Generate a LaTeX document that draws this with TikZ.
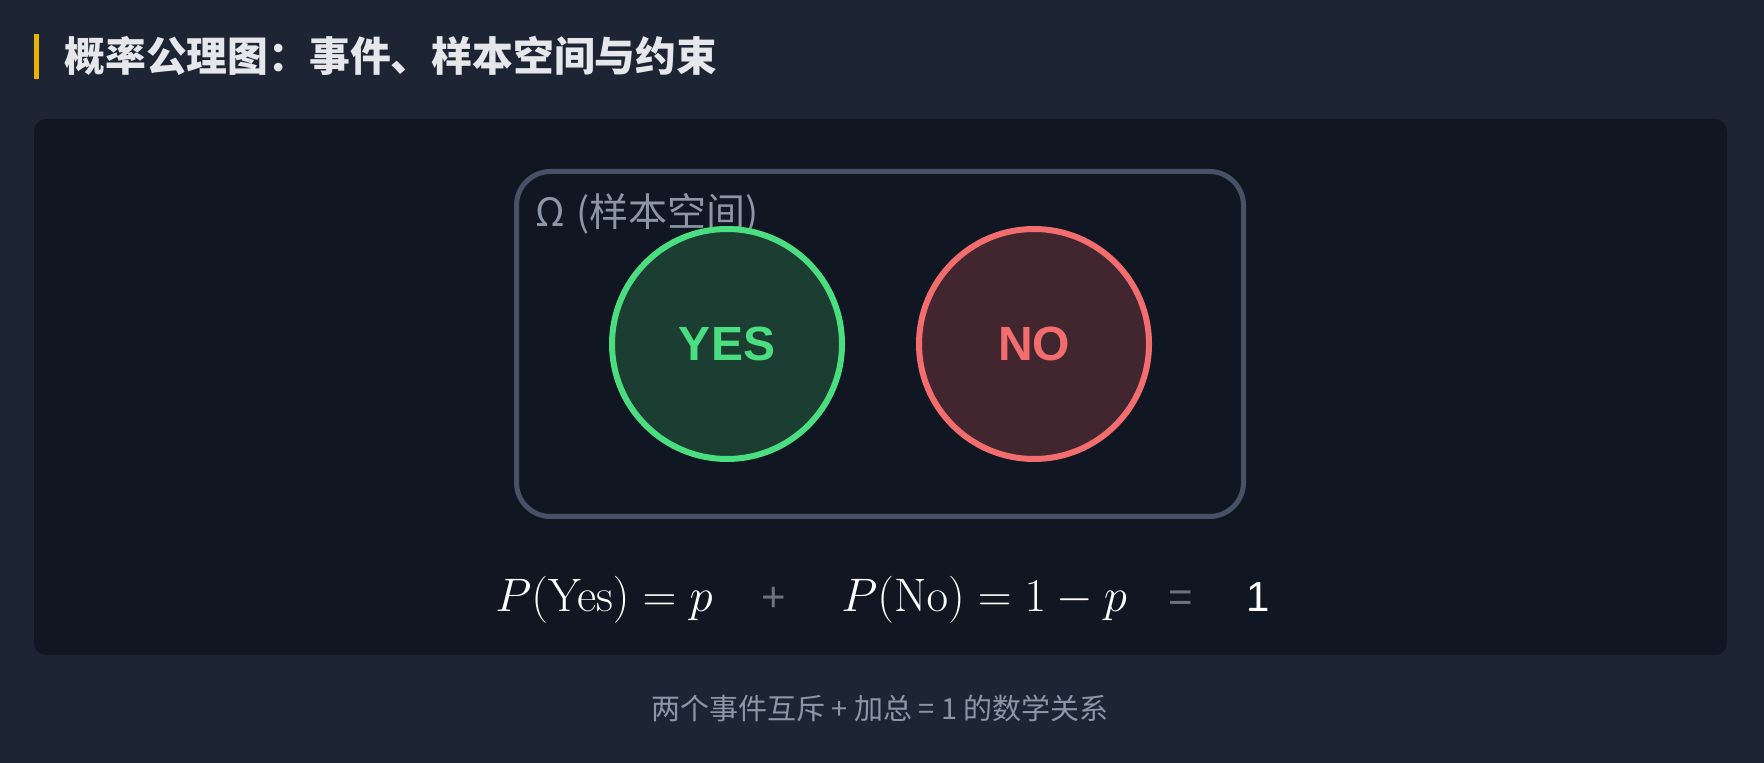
\RequirePackage{fix-cm}
\documentclass[tikz,border=0pt]{standalone}
\usepackage[no-math]{fontspec}
\setmainfont{Liberation Sans}
\newfontfamily\cjk{Noto Sans CJK SC}
\definecolor{bgc}{HTML}{1D2433}
\definecolor{panelc}{HTML}{111722}
\definecolor{barc}{HTML}{EAB308}
\definecolor{titlec}{HTML}{E5E7EB}
\definecolor{omegac}{HTML}{475266}
\definecolor{graytxt}{HTML}{8D96A6}
\definecolor{yesline}{HTML}{4ADE80}
\definecolor{yesfill}{HTML}{1B3D32}
\definecolor{noline}{HTML}{F26E6E}
\definecolor{nofill}{HTML}{42262F}
\definecolor{opc}{HTML}{6B7280}
\tikzset{
  event/.style={circle, line width=3pt, minimum size=115pt, inner sep=0pt,
    font=\fontsize{24}{28}\selectfont\bfseries},
  mathtxt/.style={text=white, font=\fontsize{23.5}{27}\selectfont, inner sep=0pt, anchor=base west},
  optxt/.style={text=opc, font=\fontsize{21}{24}\selectfont, inner sep=0pt, anchor=base},
}
\begin{document}
\begin{tikzpicture}[x=0.5pt,y=-0.5pt]
\fill[bgc] (0,0) rectangle (1764,763);
\useasboundingbox (0,0) rectangle (1764,763);
\fill[barc] (34,34) rectangle (39,79);
\node[anchor=west, inner sep=0pt, text=titlec, font=\cjk\bfseries\fontsize{20.4}{24}\selectfont] (title) at (64,56) {概率公理图：事件、样本空间与约束};
\fill[panelc, rounded corners=6pt] (34,119) rectangle (1727,655);
\node[draw=omegac, line width=2.5pt, fill=panelc, rounded corners=17pt, minimum width=363.5pt, minimum height=172.5pt, inner sep=0pt] (omega) at (880,344) {};
\node[anchor=west, inner sep=0pt, text=graytxt, font=\cjk\fontsize{19.5}{22}\selectfont] (omegalabel) at (535,214) {Ω\hspace{0.3em}(样本空间)};
\node[event, draw=yesline, fill=yesfill, text=yesline] (yes) at (727,344) {YES};
\node[event, draw=noline, fill=nofill, text=noline] (no) at (1034,344) {NO};
\node[mathtxt] (pyes) at (495,611) {$P(\mathrm{Yes})=p$};
\node[optxt] (plus) at (774,611) {+};
\node[mathtxt] (pno) at (841,611) {$P(\mathrm{No})=1-p$};
\node[optxt] (eq) at (1181,611) {=};
\node[optxt, text=white] (one) at (1258,611) {1};
\node[text=graytxt, inner sep=0pt, font=\cjk\fontsize{14.5}{17}\selectfont] (caption) at (880,708) {两个事件互斥 + 加总 = 1 的数学关系};
\end{tikzpicture}
\end{document}
